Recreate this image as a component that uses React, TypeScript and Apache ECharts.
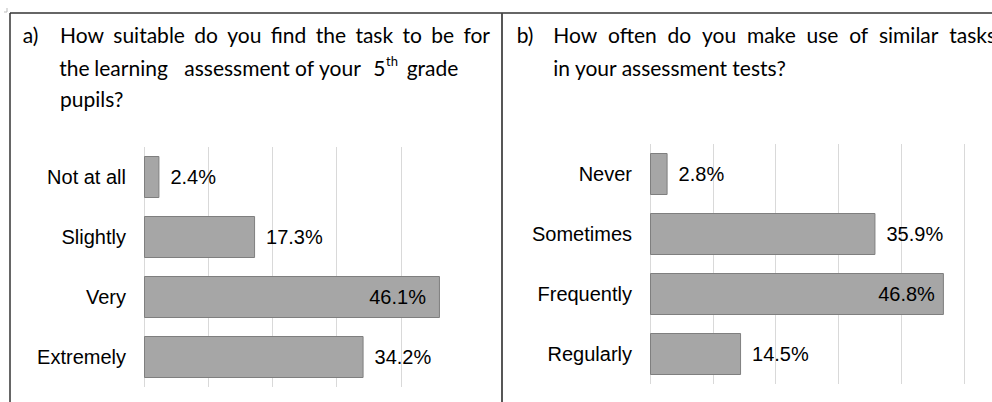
import React, { useEffect, useRef } from "react";
import * as echarts from "echarts";

// ---- data ----
const categoriesA = ["Not at all", "Slightly", "Very", "Extremely"];
const valuesA = [2.4, 17.3, 46.1, 34.2];
const categoriesB = ["Never", "Sometimes", "Frequently", "Regularly"];
const valuesB = [2.8, 35.9, 46.8, 14.5];
const axisMin = 0;
const axisMax = 50;
const axisInterval = 10;

const titleA1 = "How suitable do you find the task to be for";
const titleA2Words = ["the", "learning", "assessment", "of", "your", "5"];
const titleA2Sup = "th";
const titleA2End = "grade";
const titleA3 = "pupils?";
const titleB1 = "How often do you make use of similar tasks";
const titleB2 = "in your assessment tests?";

const TITLE_FONT = "21px Lato";
const SUP_FONT = "13px Lato";
const AXIS_FONT = "Liberation Sans";

function buildSeriesData(values: number[], insideDist: number) {
  const maxV = Math.max(...values);
  return values.map((v) =>
    v === maxV
      ? { value: v, label: { position: "insideRight", distance: insideDist } }
      : { value: v, label: { position: "right", distance: 11 } }
  );
}

function txt(text: string, x: number, y: number, font = TITLE_FONT) {
  return {
    type: "text",
    x,
    y,
    style: {
      text,
      font,
      fill: "#000",
      align: "left",
      verticalAlign: "middle",
      textAlign: "left",
      textVerticalAlign: "middle",
    },
  };
}

let measureCtx: CanvasRenderingContext2D | null = null;
function measure(text: string, font: string): number {
  if (!measureCtx) measureCtx = document.createElement("canvas").getContext("2d");
  if (!measureCtx) return text.length * 10;
  measureCtx.font = font;
  return measureCtx.measureText(text).width;
}

// justified line: spread words so the line runs from x0 to x1
function justified(text: string, x0: number, x1: number, y: number) {
  const words = text.split(" ");
  const widths = words.map((w) => measure(w, TITLE_FONT));
  const total = widths.reduce((a, b) => a + b, 0);
  const gap = (x1 - x0 - total) / (words.length - 1);
  const out: any[] = [];
  let x = x0;
  words.forEach((w, i) => {
    out.push(txt(w, x, y));
    x += widths[i] + gap;
  });
  return out;
}

export default function App() {
  const ref = useRef<HTMLDivElement>(null);

  useEffect(() => {
    if (!ref.current) return;
    const chart = echarts.init(ref.current, undefined, { renderer: "svg" });

    const grid = "#d9d9d9";
    const xAxisBase = {
      type: "value",
      min: axisMin,
      max: axisMax,
      interval: axisInterval,
      axisLabel: { show: false },
      axisLine: { show: false },
      axisTick: { show: false },
    };
    const yAxisBase = {
      type: "category",
      inverse: true,
      axisLine: { show: false },
      axisTick: { show: false },
      axisLabel: { fontSize: 20, color: "#000", margin: 18, fontFamily: AXIS_FONT },
    };
    const barBase = {
      type: "bar",
      barCategoryGap: "30%",
      itemStyle: { color: "#a6a6a6", borderColor: "#7f7f7f", borderWidth: 1 },
      label: {
        show: true,
        fontSize: 20,
        color: "#000",
        fontFamily: AXIS_FONT,
        formatter: (p: any) => `${Number(p.value).toFixed(1)}%`,
      },
    };

    // word positions for the justified second line of title a)
    const a2x = [59.3, 94.3, 184.3, 295, 319, 373.3];
    const lineY = [34, 67, 98];
    const fiveEnd = a2x[5] + measure("5", TITLE_FONT) + 0.5;

    const graphic: any[] = [
      // panel borders
      { type: "line", shape: { x1: 10, y1: 13, x2: 992, y2: 13 }, style: { stroke: "#333", lineWidth: 1.5 } },
      { type: "line", shape: { x1: 10, y1: 13, x2: 10, y2: 402 }, style: { stroke: "#333", lineWidth: 1.5 } },
      { type: "line", shape: { x1: 502, y1: 13, x2: 502, y2: 402 }, style: { stroke: "#444", lineWidth: 1.8 } },
      { type: "line", shape: { x1: 7, y1: 8, x2: 7, y2: 12 }, style: { stroke: "#bbb", lineWidth: 1 } },
      { type: "line", shape: { x1: 4, y1: 12, x2: 7, y2: 12 }, style: { stroke: "#bbb", lineWidth: 1 } },
      // title a
      txt("a)", 22.7, lineY[0]),
      ...justified(titleA1, 60, 490, lineY[0]),
      ...titleA2Words.map((w, i) => txt(w, a2x[i], lineY[1])),
      txt(titleA2Sup, fiveEnd, lineY[1] - 6, SUP_FONT),
      txt(titleA2End, 406.7, lineY[1]),
      txt(titleA3, 60, lineY[2]),
      // title b
      txt("b)", 516.7, lineY[0]),
      ...justified(titleB1, 553.3, 996, lineY[0]),
      txt(titleB2, 553.3, lineY[1]),
    ];

    chart.setOption({
      animation: false,
      graphic,
      grid: [
        { left: 144, top: 147, width: 321, height: 240 },
        { left: 650, top: 144, width: 314, height: 240 },
      ],
      xAxis: [
        {
          ...xAxisBase,
          gridIndex: 0,
          splitLine: {
            show: true,
            lineStyle: { color: [grid, grid, grid, grid, grid, "rgba(0,0,0,0)"], width: 1 },
          },
        },
        {
          ...xAxisBase,
          gridIndex: 1,
          splitLine: { show: true, lineStyle: { color: grid, width: 1 } },
        },
      ],
      yAxis: [
        { ...yAxisBase, gridIndex: 0, data: categoriesA },
        { ...yAxisBase, gridIndex: 1, data: categoriesB },
      ],
      series: [
        { ...barBase, xAxisIndex: 0, yAxisIndex: 0, data: buildSeriesData(valuesA, 14) },
        { ...barBase, xAxisIndex: 1, yAxisIndex: 1, data: buildSeriesData(valuesB, 9) },
      ],
    });

    return () => chart.dispose();
  }, []);

  return (
    <div
      ref={ref}
      style={{ position: "fixed", left: 0, top: 0, width: 992, height: 402, background: "#fff" }}
    />
  );
}
